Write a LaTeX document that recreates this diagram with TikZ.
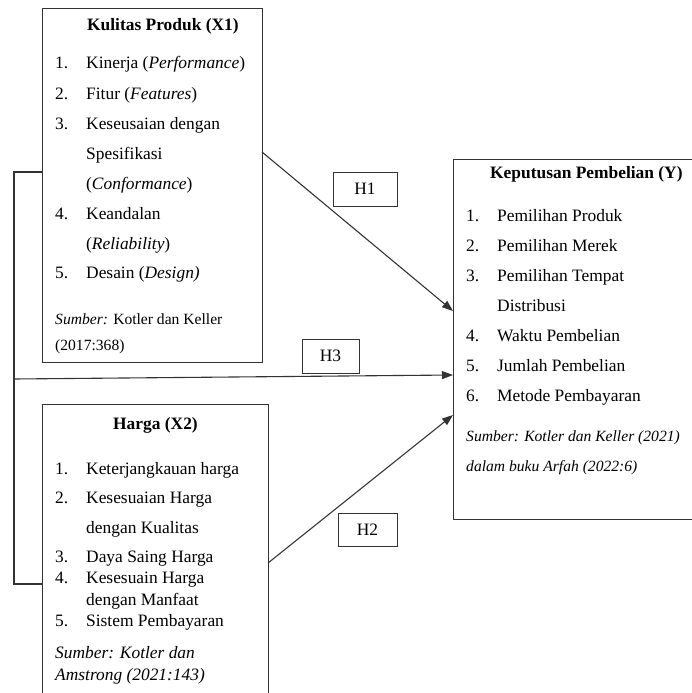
\documentclass[tikz,border=0pt]{standalone}
\usepackage{fontspec}
\setmainfont{Liberation Serif}
\usetikzlibrary{arrows.meta}
\begin{document}
\begin{tikzpicture}[x=1pt,y=-1pt,>={Triangle[length=11pt,width=8pt]},
    every node/.style={inner sep=0pt,font=\fontsize{17.4}{20}\selectfont},
    kotak/.style={draw=black!80,line width=1.1pt,anchor=north west},
    hbox/.style={draw=black!80,line width=1pt},
    garis/.style={draw=black!80,line width=1.1pt},
    teks/.style={anchor=base west},
    sumber/.style={anchor=base west,font=\fontsize{15.6}{18}\selectfont}]
                \useasboundingbox (0,0) rectangle (692,693);
                % kotak variabel
                \node[kotak,minimum width=220pt,minimum height=354pt] (x1) at (42,8) {};
                \node[kotak,minimum width=226pt,minimum height=300pt] (x2) at (42,404) {};
                \node[kotak,minimum width=260pt,minimum height=360pt] (y) at (453,159) {};
                % X1
                \node[teks] (x1judul) at (87,31) {\textbf{Kulitas Produk (X1)}};
                \node[teks] (x1n1) at (55,69) {1.};
                \node[teks] (x1t1) at (86,69) {Kinerja (\textit{Performance})};
                \node[teks] (x1n2) at (55,99) {2.};
                \node[teks] (x1t2) at (86,99) {Fitur (\textit{Features})};
                \node[teks] (x1n3) at (55,129) {3.};
                \node[teks] (x1t3) at (86,129) {Keseusaian dengan};
                \node[teks] (x1t3b) at (86,159) {Spesifikasi};
                \node[teks] (x1t3c) at (86,189) {(\textit{Conformance})};
                \node[teks] (x1n4) at (55,219) {4.};
                \node[teks] (x1t4) at (86,219) {Keandalan};
                \node[teks] (x1t4b) at (86,249) {(\textit{Reliability})};
                \node[teks] (x1n5) at (55,278) {5.};
                \node[teks] (x1t5) at (86,278) {Desain (\textit{Design)}};
                \node[sumber] (x1s1) at (55,324) {\textit{Sumber:} Kotler dan Keller};
                \node[sumber] (x1s2) at (55,350) {(2017:368)};
                % X2
                \node[teks] (x2judul) at (113,429) {\textbf{Harga (X2)}};
                \node[teks] (x2n1) at (55,474) {1.};
                \node[teks] (x2t1) at (86,474) {Keterjangkauan harga};
                \node[teks] (x2n2) at (55,503) {2.};
                \node[teks] (x2t2) at (86,503) {Kesesuaian Harga};
                \node[teks] (x2t2b) at (86,533) {dengan Kualitas};
                \node[teks] (x2n3) at (55,562) {3.};
                \node[teks] (x2t3) at (86,562) {Daya Saing Harga};
                \node[teks] (x2n4) at (55,583) {4.};
                \node[teks] (x2t4) at (86,583) {Kesesuain Harga};
                \node[teks] (x2t4b) at (86,605) {dengan Manfaat};
                \node[teks] (x2n5) at (55,626) {5.};
                \node[teks] (x2t5) at (86,626) {Sistem Pembayaran};
                \node[teks] (x2s1) at (55,658) {\textit{Sumber: Kotler dan}};
                \node[teks] (x2s2) at (55,680) {\textit{Amstrong (2021:143)}};
                % Y
                \node[teks] (yjudul) at (490,178) {\textbf{Keputusan Pembelian (Y)}};
                \node[teks] (yn1) at (466,221) {1.};
                \node[teks] (yt1) at (497,221) {Pemilihan Produk};
                \node[teks] (yn2) at (466,251) {2.};
                \node[teks] (yt2) at (497,251) {Pemilihan Merek};
                \node[teks] (yn3) at (466,281) {3.};
                \node[teks] (yt3) at (497,281) {Pemilihan Tempat};
                \node[teks] (yt3b) at (497,311) {Distribusi};
                \node[teks] (yn4) at (466,341) {4.};
                \node[teks] (yt4) at (497,341) {Waktu Pembelian};
                \node[teks] (yn5) at (466,371) {5.};
                \node[teks] (yt5) at (497,371) {Jumlah Pembelian};
                \node[teks] (yn6) at (466,401) {6.};
                \node[teks] (yt6) at (497,401) {Metode Pembayaran};
                \node[sumber] (ys1) at (466,441) {\textit{Sumber: Kotler dan Keller (2021)}};
                \node[sumber] (ys2) at (466,471) {\textit{dalam buku Arfah (2022:6)}};
                % hipotesis
                \node[hbox,minimum width=64pt,minimum height=34pt] (h1) at (365,189) {H1};
                \node[hbox,minimum width=57pt,minimum height=34pt] (h3) at (330.5,356) {H3};
                \node[hbox,minimum width=59pt,minimum height=33pt] (h2) at (367.5,529.5) {H2};
                % garis
                \coordinate (k1) at (42,172);
                \coordinate (k2) at (14,172);
                \coordinate (k3) at (14,584);
                \coordinate (k4) at (42,584);
                \coordinate (h3a) at (14,379);
                \coordinate (h3b) at (453,375);
                \coordinate (h1a) at (262,152);
                \coordinate (h1b) at (453,311);
                \coordinate (h2a) at (268,563);
                \coordinate (h2b) at (453,415);
                \draw[garis] (k1) -- (k2) -- (k3) -- (k4);
                \draw[garis,->] (h3a) -- (h3b);
                \draw[garis,->] (h1a) -- (h1b);
                \draw[garis,->] (h2a) -- (h2b);
\end{tikzpicture}
\end{document}
